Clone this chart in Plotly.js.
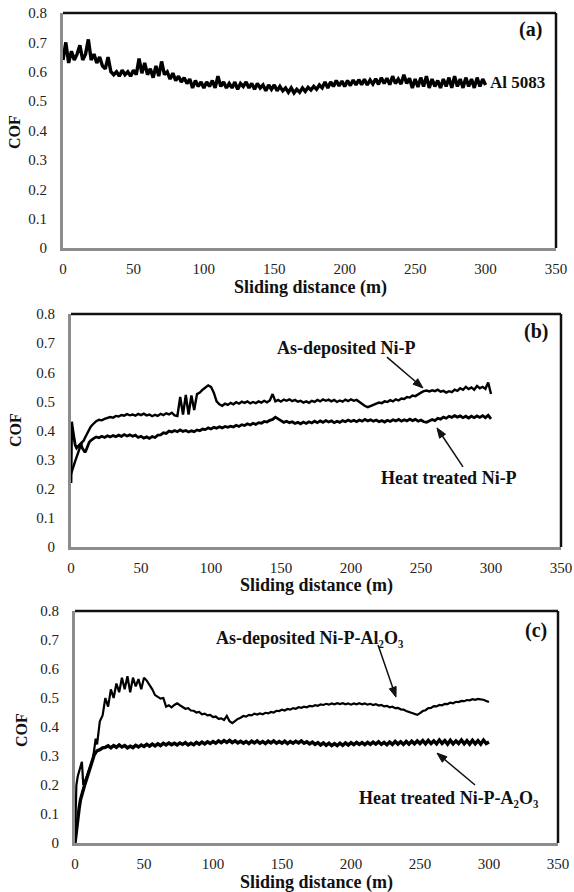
<!DOCTYPE html>
<html>
<head>
<meta charset="utf-8">
<script src="https://cdn.plot.ly/plotly-3.0.1.min.js"></script>
<style>html,body{margin:0;padding:0;background:#fff;}#chart{width:574px;height:892px;}</style>
</head>
<body>
<div id="chart"></div>
<script>
// ---------- Panel (a): Al 5083 ----------
const xA = [0,2,4,6,8,10,12,14,16,18,20,22,24,26,28,30,32,34,36,38,40,42,44,46,48,50,52,54,56,58,60,62,64,66,68,70,72,74,76,78,80,82,84,86,88,90,92,94,96,98,100,102,104,106,108,110,112,114,116,118,120,122,124,126,128,130,132,134,136,138,140,142,144,146,148,150,152,154,156,158,160,162,164,166,168,170,172,174,176,178,180,182,184,186,188,190,192,194,196,198,200,202,204,206,208,210,212,214,216,218,220,222,224,226,228,230,232,234,236,238,240,242,244,246,248,250,252,254,256,258,260,262,264,266,268,270,272,274,276,278,280,282,284,286,288,290,292,294,296,298,300];
const cofAl5083 = [0.64,0.70,0.63,0.67,0.64,0.66,0.69,0.64,0.66,0.71,0.64,0.66,0.63,0.65,0.62,0.61,0.65,0.60,0.59,0.60,0.585,0.605,0.59,0.60,0.585,0.605,0.59,0.645,0.595,0.63,0.59,0.61,0.58,0.62,0.585,0.635,0.59,0.60,0.575,0.595,0.57,0.585,0.565,0.58,0.56,0.575,0.545,0.57,0.55,0.565,0.545,0.565,0.55,0.57,0.545,0.585,0.55,0.565,0.545,0.56,0.545,0.565,0.54,0.56,0.55,0.565,0.545,0.56,0.54,0.56,0.545,0.555,0.535,0.555,0.54,0.555,0.535,0.55,0.535,0.545,0.53,0.545,0.528,0.54,0.53,0.545,0.533,0.547,0.538,0.55,0.54,0.555,0.545,0.565,0.545,0.565,0.55,0.57,0.552,0.568,0.55,0.57,0.553,0.572,0.555,0.573,0.556,0.574,0.555,0.572,0.558,0.576,0.557,0.58,0.56,0.578,0.556,0.585,0.56,0.575,0.558,0.59,0.56,0.578,0.545,0.575,0.548,0.58,0.55,0.585,0.545,0.575,0.55,0.57,0.545,0.575,0.55,0.58,0.545,0.585,0.55,0.575,0.545,0.58,0.55,0.575,0.545,0.58,0.55,0.575,0.555];

// ---------- Panel (b): Ni-P ----------
const xB = [0,0.5,1,2,3,4,5,6,7,8,9,10,11,12,13,14,15,16,18,20,22,24,26,28,30,32,34,36,38,40,42,44,46,48,50,52,54,56,58,60,62,64,66,68,70,72,74,76,78,80,82,84,86,88,90,92,94,96,98,100,102,104,106,108,110,112,114,116,118,120,122,124,126,128,130,132,134,136,138,140,142,144,146,148,150,152,154,156,158,160,162,164,166,168,170,172,174,176,178,180,182,184,186,188,190,192,194,196,198,200,202,204,206,208,210,212,214,216,218,220,222,224,226,228,230,232,234,236,238,240,242,244,246,248,250,252,254,256,258,260,262,264,266,268,270,272,274,276,278,280,282,284,286,288,290,292,294,296,298,300];
const cofAsDepNiP = [0.25,0.26,0.27,0.28,0.295,0.31,0.325,0.34,0.35,0.36,0.365,0.375,0.385,0.395,0.405,0.412,0.418,0.424,0.432,0.437,0.435,0.44,0.442,0.446,0.444,0.45,0.448,0.453,0.451,0.456,0.452,0.455,0.451,0.457,0.453,0.458,0.452,0.455,0.449,0.454,0.45,0.457,0.453,0.459,0.455,0.461,0.452,0.45,0.515,0.455,0.522,0.455,0.52,0.47,0.525,0.53,0.54,0.548,0.555,0.55,0.53,0.5,0.49,0.485,0.492,0.488,0.495,0.49,0.497,0.492,0.499,0.495,0.5,0.493,0.498,0.494,0.5,0.496,0.502,0.497,0.503,0.525,0.5,0.505,0.499,0.506,0.502,0.507,0.501,0.505,0.499,0.502,0.496,0.5,0.495,0.502,0.498,0.505,0.5,0.507,0.502,0.506,0.5,0.505,0.498,0.503,0.499,0.506,0.501,0.507,0.502,0.505,0.497,0.49,0.484,0.48,0.483,0.488,0.492,0.496,0.494,0.5,0.498,0.504,0.5,0.507,0.503,0.51,0.508,0.515,0.513,0.52,0.518,0.525,0.53,0.535,0.537,0.534,0.538,0.535,0.54,0.533,0.536,0.53,0.535,0.532,0.54,0.536,0.545,0.54,0.55,0.542,0.548,0.54,0.553,0.545,0.55,0.543,0.565,0.525];
const cofHeatNiP = [0.22,0.43,0.41,0.37,0.35,0.34,0.345,0.35,0.355,0.34,0.33,0.325,0.335,0.35,0.36,0.365,0.37,0.372,0.378,0.375,0.38,0.376,0.382,0.378,0.383,0.379,0.384,0.38,0.386,0.381,0.385,0.38,0.384,0.376,0.38,0.374,0.378,0.373,0.379,0.376,0.384,0.385,0.392,0.39,0.398,0.395,0.4,0.396,0.402,0.397,0.4,0.395,0.399,0.396,0.402,0.399,0.405,0.403,0.409,0.405,0.411,0.408,0.413,0.409,0.414,0.411,0.415,0.412,0.418,0.414,0.42,0.417,0.423,0.419,0.425,0.421,0.427,0.425,0.431,0.429,0.435,0.438,0.446,0.44,0.432,0.428,0.432,0.427,0.43,0.424,0.428,0.423,0.429,0.424,0.43,0.426,0.432,0.427,0.433,0.428,0.434,0.429,0.433,0.427,0.432,0.428,0.434,0.43,0.436,0.431,0.435,0.43,0.436,0.432,0.438,0.433,0.437,0.432,0.436,0.43,0.434,0.429,0.435,0.431,0.437,0.433,0.438,0.432,0.437,0.433,0.439,0.434,0.438,0.432,0.436,0.43,0.428,0.432,0.438,0.434,0.442,0.439,0.446,0.442,0.449,0.445,0.451,0.446,0.45,0.444,0.449,0.443,0.449,0.444,0.45,0.445,0.451,0.444,0.452,0.44];

// ---------- Panel (c): Ni-P-Al2O3 ----------
const xC = [0,1,2,3,4,5,6,7,8,9,10,11,12,13,14,15,16,18,20,22,24,26,28,30,32,34,36,38,40,42,44,46,48,50,52,54,56,58,60,62,64,66,68,70,72,74,76,78,80,82,84,86,88,90,92,94,96,98,100,102,104,106,108,110,112,114,116,118,120,122,124,126,128,130,132,134,136,138,140,142,144,146,148,150,152,154,156,158,160,162,164,166,168,170,172,174,176,178,180,182,184,186,188,190,192,194,196,198,200,202,204,206,208,210,212,214,216,218,220,222,224,226,228,230,232,234,236,238,240,242,244,246,248,250,252,254,256,258,260,262,264,266,268,270,272,274,276,278,280,282,284,286,288,290,292,294,296,298,300];
const cofAsDepNiPAl2O3 = [0.01,0.2,0.23,0.25,0.265,0.28,0.2,0.21,0.225,0.235,0.25,0.26,0.275,0.29,0.33,0.36,0.34,0.42,0.44,0.5,0.47,0.53,0.5,0.55,0.52,0.57,0.53,0.575,0.52,0.57,0.54,0.565,0.53,0.57,0.56,0.545,0.53,0.51,0.505,0.498,0.5,0.47,0.475,0.468,0.476,0.482,0.475,0.47,0.463,0.465,0.457,0.456,0.45,0.452,0.444,0.446,0.44,0.442,0.434,0.436,0.428,0.43,0.424,0.438,0.42,0.413,0.422,0.428,0.432,0.438,0.436,0.442,0.44,0.446,0.443,0.447,0.444,0.449,0.447,0.452,0.45,0.456,0.455,0.46,0.457,0.462,0.46,0.465,0.463,0.468,0.466,0.47,0.468,0.473,0.471,0.475,0.473,0.478,0.476,0.48,0.477,0.481,0.478,0.482,0.479,0.482,0.478,0.481,0.477,0.481,0.478,0.482,0.478,0.481,0.477,0.48,0.476,0.479,0.474,0.476,0.471,0.473,0.468,0.47,0.465,0.466,0.461,0.46,0.455,0.452,0.448,0.445,0.442,0.448,0.455,0.458,0.465,0.466,0.472,0.471,0.476,0.475,0.48,0.479,0.484,0.482,0.487,0.486,0.49,0.489,0.493,0.492,0.496,0.494,0.497,0.495,0.494,0.49,0.486];
const cofHeatNiPAl2O3 = [0.0,0.05,0.09,0.12,0.15,0.17,0.19,0.2,0.215,0.23,0.245,0.26,0.28,0.295,0.305,0.312,0.318,0.322,0.328,0.33,0.335,0.328,0.336,0.33,0.338,0.331,0.336,0.328,0.334,0.329,0.337,0.331,0.338,0.333,0.34,0.334,0.341,0.335,0.342,0.336,0.344,0.338,0.345,0.339,0.344,0.338,0.345,0.34,0.346,0.338,0.344,0.339,0.347,0.341,0.348,0.342,0.349,0.343,0.35,0.344,0.352,0.346,0.353,0.347,0.354,0.346,0.352,0.345,0.351,0.344,0.35,0.343,0.351,0.345,0.352,0.344,0.35,0.343,0.351,0.345,0.352,0.344,0.35,0.344,0.351,0.343,0.35,0.344,0.351,0.345,0.352,0.344,0.349,0.342,0.348,0.34,0.346,0.338,0.345,0.337,0.344,0.336,0.343,0.336,0.344,0.337,0.345,0.338,0.346,0.339,0.347,0.34,0.346,0.339,0.347,0.34,0.348,0.341,0.349,0.34,0.347,0.339,0.348,0.34,0.35,0.341,0.349,0.34,0.35,0.341,0.351,0.342,0.352,0.343,0.353,0.342,0.354,0.343,0.352,0.342,0.355,0.343,0.353,0.341,0.354,0.342,0.352,0.343,0.355,0.342,0.353,0.341,0.354,0.342,0.353,0.341,0.355,0.343,0.348];

// ---------- Text ----------
const xTitle = 'Sliding distance (m)';
const yTitle = 'COF';
const panelLabels = ['(a)', '(b)', '(c)'];
const seriesLabels = ['Al 5083', 'As-deposited Ni-P', 'Heat treated Ni-P',
  'As-deposited Ni-P-Al\u2082O\u2083', 'Heat treated Ni-P-A\u2082O\u2083'];

const SERIF = 'Liberation Serif, DejaVu Serif, serif';
const W = 574, H = 892;
const PANELS = [
  {l: 63, r: 556, t: 13, b: 248},
  {l: 71, r: 561, t: 314, b: 547},
  {l: 75, r: 558, t: 611, b: 843}
];

function xax(p) {
  return {domain: [p.l / W, p.r / W], range: [0, 350], dtick: 50, tick0: 0,
    showgrid: false, zeroline: false, showline: true, linecolor: '#8c8c8c', linewidth: 3,
    ticks: '', ticklabelstandoff: 5, tickfont: {family: SERIF, size: 15, color: '#222'}, fixedrange: true};
}
function yax(p) {
  return {domain: [1 - p.b / H, 1 - p.t / H], range: [0, 0.8], dtick: 0.1, tick0: 0,
    showgrid: false, zeroline: false, showline: true, linecolor: '#8c8c8c', linewidth: 3,
    ticks: '', ticklabelstandoff: 10, tickfont: {family: SERIF, size: 15, color: '#222'}, fixedrange: true};
}

const lineStyle = w => ({color: '#000', width: w});
const traces = [
  {x: xA, y: cofAl5083, xaxis: 'x', yaxis: 'y', mode: 'lines', line: lineStyle(3.4), name: 'Al 5083'},
  {x: xB, y: cofAsDepNiP, xaxis: 'x2', yaxis: 'y2', mode: 'lines', line: lineStyle(2.4), name: 'As-deposited Ni-P'},
  {x: xB, y: cofHeatNiP, xaxis: 'x2', yaxis: 'y2', mode: 'lines', line: lineStyle(2.8), name: 'Heat treated Ni-P'},
  {x: xC, y: cofAsDepNiPAl2O3, xaxis: 'x3', yaxis: 'y3', mode: 'lines', line: lineStyle(2.2), name: 'As-deposited Ni-P-Al2O3'},
  {x: xC, y: cofHeatNiPAl2O3, xaxis: 'x3', yaxis: 'y3', mode: 'lines', line: lineStyle(3.4), name: 'Heat treated Ni-P-A2O3'}
];

const boldFont = s => ({family: SERIF, size: s, color: '#111', weight: 'bold'});
// label placed at pixel centre (px, py) of the page
function lbl(text, px, py, size, xanchor, angle) {
  const a = {text: '<b>' + text + '</b>', xref: 'paper', yref: 'paper', x: px / W, y: 1 - py / H,
    showarrow: false, font: boldFont(size), xanchor: xanchor || 'center', yanchor: 'middle'};
  if (angle) a.textangle = angle;
  return a;
}

const annotations = [
  lbl(panelLabels[0], 530, 30, 20),
  lbl(seriesLabels[0], 488, 83, 17, 'left'),
  lbl(panelLabels[1], 536, 332, 20),
  lbl(seriesLabels[1], 346, 348, 18),
  lbl(seriesLabels[2], 449.5, 478, 18),
  lbl(panelLabels[2], 536, 630, 20),
  lbl(seriesLabels[3], 309.5, 638, 18),
  lbl(seriesLabels[4], 449, 798, 18),
  lbl(xTitle, 310, 287, 18),
  lbl(xTitle, 316, 585, 18),
  lbl(xTitle, 316.5, 882, 18),
  lbl(yTitle, 15, 132, 16, 'center', -90),
  lbl(yTitle, 16, 430, 16, 'center', -90),
  lbl(yTitle, 21, 730, 16, 'center', -90)
];

const shapes = [];
// black top/right frame of each plot area
['x', 'x2', 'x3'].forEach((xa, i) => {
  const ya = ['y', 'y2', 'y3'][i];
  shapes.push({type: 'line', xref: xa + ' domain', yref: ya + ' domain', x0: 0, x1: 1, y0: 1, y1: 1, line: {color: '#111', width: 2.5}});
  shapes.push({type: 'line', xref: xa + ' domain', yref: ya + ' domain', x0: 1, x1: 1, y0: 0, y1: 1, line: {color: '#111', width: 2.5}});
});

// pointer arrows (head x/y, tail x/y in axis units)
const arrows = [
  {p: 1, xa: 'x2', ya: 'y2', hx: 251.4, hy: 0.546, tx: 225.7, ty: 0.652},
  {p: 1, xa: 'x2', ya: 'y2', hx: 261.4, hy: 0.409, tx: 280, ty: 0.275},
  {p: 2, xa: 'x3', ya: 'y3', hx: 232.6, hy: 0.503, tx: 219.6, ty: 0.683},
  {p: 2, xa: 'x3', ya: 'y3', hx: 262.3, hy: 0.31, tx: 289.9, ty: 0.2}
];
arrows.forEach(a => {
  const P = PANELS[a.p];
  const sx = (P.r - P.l) / 350, sy = (P.b - P.t) / 0.8;
  const dx = (a.tx - a.hx) * sx, dy = (a.ty - a.hy) * sy; // pixel, y up
  const len = Math.hypot(dx, dy), ux = dx / len, uy = dy / len;
  const L = 10, Wd = 3.6;
  const bx = ux * L, by = uy * L, nx = -uy * Wd, ny = ux * Wd;
  shapes.push({type: 'line', xref: a.xa, yref: a.ya, x0: a.tx, y0: a.ty,
    x1: a.hx + (a.tx - a.hx) * (L * 0.8 / len), y1: a.hy + (a.ty - a.hy) * (L * 0.8 / len),
    line: {color: '#111', width: 1.5}});
  shapes.push({type: 'path', xref: a.xa, yref: a.ya, xsizemode: 'pixel', ysizemode: 'pixel',
    xanchor: a.hx, yanchor: a.hy,
    path: `M0,0 L${(bx + nx).toFixed(2)},${(by + ny).toFixed(2)} L${(bx - nx).toFixed(2)},${(by - ny).toFixed(2)} Z`,
    fillcolor: '#111', line: {color: '#111', width: 1}});
});

const layout = {
  width: W, height: H, margin: {l: 0, r: 0, t: 0, b: 0},
  paper_bgcolor: '#fff', plot_bgcolor: '#fff', showlegend: false,
  font: {family: SERIF, color: '#222'},
  xaxis: Object.assign(xax(PANELS[0]), {anchor: 'y'}),
  yaxis: Object.assign(yax(PANELS[0]), {anchor: 'x'}),
  xaxis2: Object.assign(xax(PANELS[1]), {anchor: 'y2'}),
  yaxis2: Object.assign(yax(PANELS[1]), {anchor: 'x2'}),
  xaxis3: Object.assign(xax(PANELS[2]), {anchor: 'y3'}),
  yaxis3: Object.assign(yax(PANELS[2]), {anchor: 'x3'}),
  annotations: annotations, shapes: shapes
};

Plotly.newPlot('chart', traces, layout, {staticPlot: true, displayModeBar: false});
</script>
</body>
</html>
